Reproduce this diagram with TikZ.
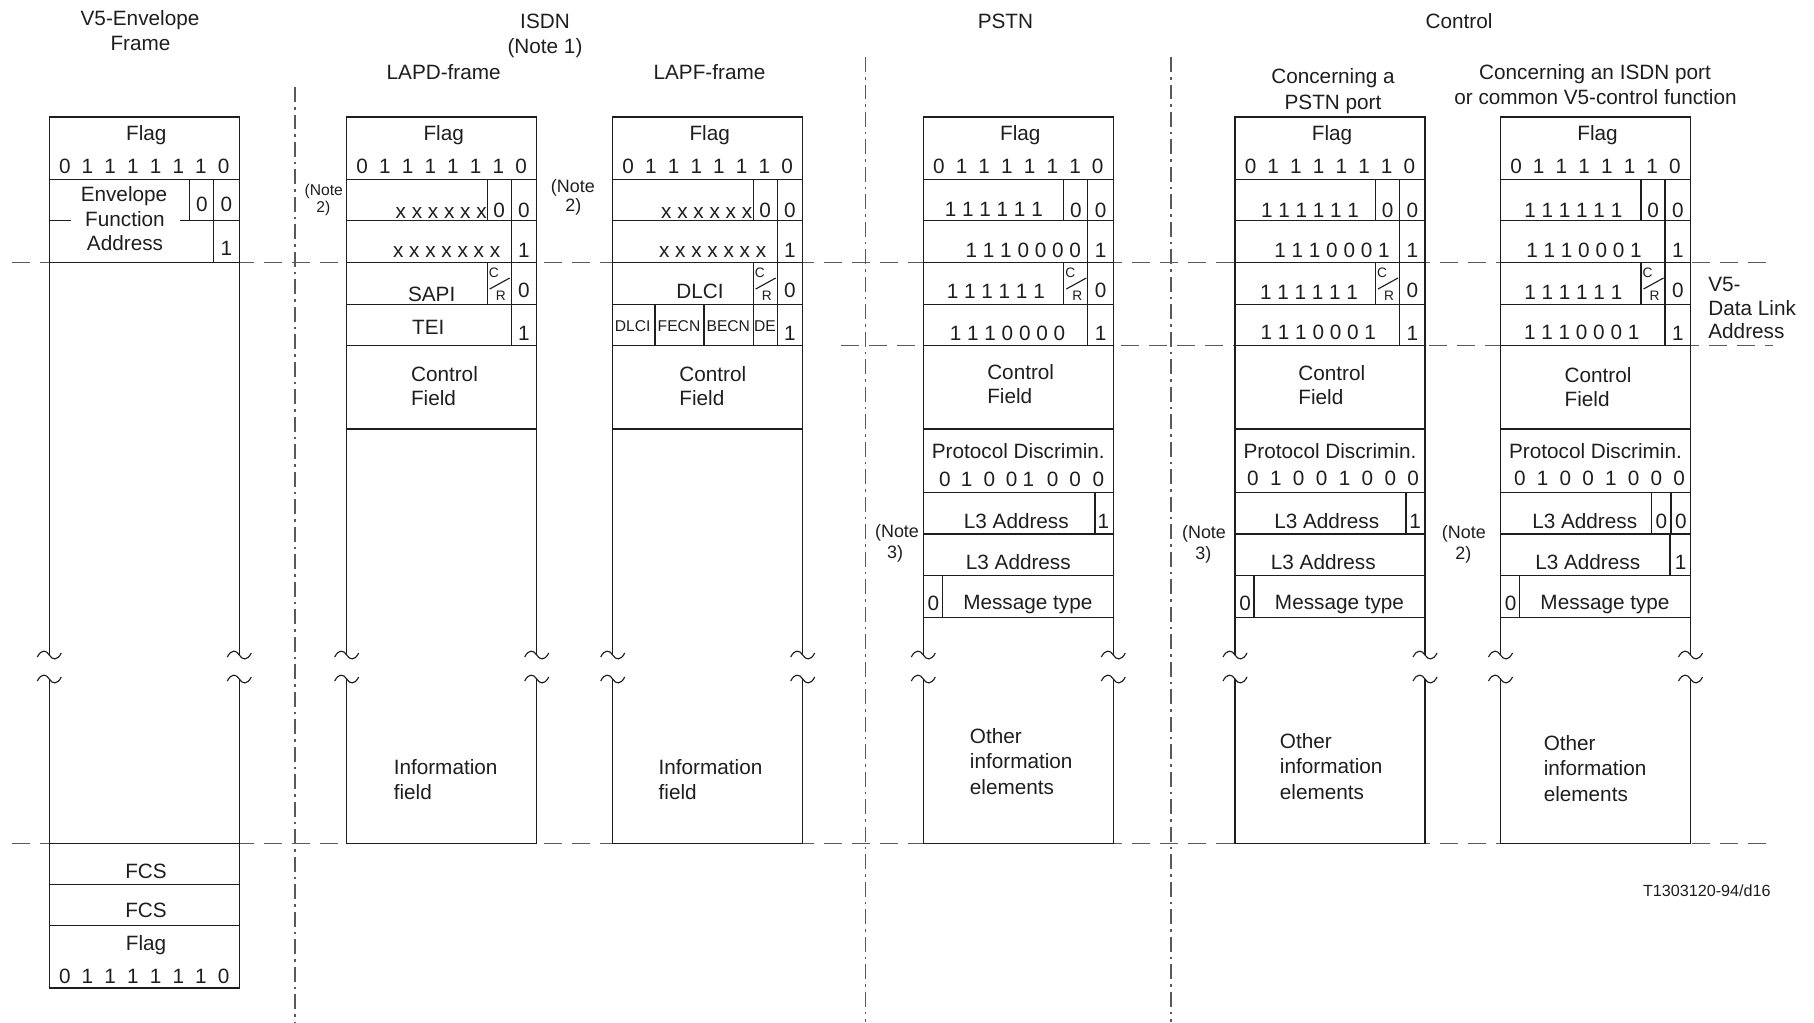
\documentclass[tikz,border=0pt]{standalone}
\usepackage{fontspec}
\setmainfont{Liberation Sans}
\definecolor{linegray}{RGB}{30,30,30}
\definecolor{dashgray}{RGB}{90,90,90}

\begin{document}
\begin{tikzpicture}[x=0.02cm, y=-0.02cm,
  box/.style={line width=0.65pt, draw=linegray},
  sepline/.style={line width=0.65pt, draw=dashgray, dash pattern=on 0.36cm off 0.2cm},
  colline/.style={line width=0.65pt, draw=dashgray, dash pattern=on 0.3cm off 0.1cm on 0.05cm off 0.1cm},
  lbl/.style={inner sep=0pt, anchor=base, text=linegray, font=\fontsize{11.8}{14}\selectfont},
  lbll/.style={lbl, anchor=base west},
  lblr/.style={lbl, anchor=base east},
  notelbl/.style={lbl, font=\fontsize{10.2}{12}\selectfont},
  tinylbl/.style={lbl, font=\fontsize{8.9}{10}\selectfont},
  crlbl/.style={lbl, anchor=center, font=\fontsize{7.8}{9}\selectfont},
  brk/.pic={\draw[box] (-12,2) .. controls (-8,-6) and (-3,-5) .. (0,0) .. controls (3,5) and (8,6) .. (12,-2);}]
  \useasboundingbox (0,0) rectangle (1814,1022);

  \draw[sepline] (12,262.5) -- (1773,262.5);
  \draw[sepline] (841,345.7) -- (1773,345.7);
  \draw[sepline] (12,843.5) -- (1773,843.5);
  \draw[colline] (295,87) -- (295,1022);
  \draw[colline] (865.5,57) -- (865.5,1022);
  \draw[colline] (1171,57) -- (1171,1022);

  \node[lbl] (t-v5a) at (140,25.5) {V5-Envelope};
  \node[lbl] (t-v5b) at (140.5,50) {Frame};
  \node[lbl] (t-isdn) at (545,28.3) {ISDN};
  \node[lbl] (t-note1) at (545,53.5) {(Note 1)};
  \node[lbl] (t-lapd) at (443.7,79) {LAPD-frame};
  \node[lbl] (t-lapf) at (709.5,79) {LAPF-frame};
  \node[lbl] (t-pstn) at (1005.4,28.3) {PSTN};
  \node[lbl] (t-ctrl) at (1459,28.3) {Control};
  \node[lbl] (t-cpa) at (1333,83) {Concerning a};
  \node[lbl] (t-cpb) at (1333,109) {PSTN port};
  \node[lbl] (t-cia) at (1595,79) {Concerning an ISDN port};
  \node[lbl] (t-cib) at (1595.5,104) {or common V5-control function};

  \foreach \f/\L in {v5/49.3, lapd/346.7, lapf/612.7, pstn/923.3, cpstn/1235, cisdn/1500.5}{
    \pgfmathsetmacro{\R}{\L+190}
    \pgfmathsetmacro{\C}{\L+95}
    \draw[box] (\L,655) -- (\L,117) -- (\R,117) -- (\R,655);
    \draw[box] (\L,679) -- (\L,843.5) -- (\R,843.5) -- (\R,679);
    \draw[box] (\L,179.3) -- (\R,179.3);
    \pic at (\L,655) {brk}; \pic at (\L,679) {brk};
    \pic at (\R,655) {brk}; \pic at (\R,679) {brk};
    \node[lbl] (flag-\f) at (\C+2,140) {Flag};
    \foreach \d [count=\k] in {0,1,1,1,1,1,1,0}
      \node[lbl] (fd-\f-\k) at (\C+\k*22.7-102.2,173) {\d};
  }

  \foreach \f/\L/\cx/\cy in {lapd/346.7/410.7/381, lapf/612.7/679/381, pstn/923.3/986.9/379, cpstn/1235/1298/380, cisdn/1500.5/1564.3/382}{
    \pgfmathsetmacro{\R}{\L+190}
    \foreach \y in {220.7,262.5,304.3,345.7,429} \draw[box] (\L,\y) -- (\R,\y);
    \draw[box] (\R-25.5,179.3) -- (\R-25.5,345.7);
    \draw[box] (\R-49.5,179.3) -- (\R-49.5,220.7) (\R-49.5,262.5) -- (\R-49.5,304.3);
    \draw[box] (\R-47,289) -- (\R-27,278);
    \node[crlbl] (c-\f) at (\R-43,272.5) {C};
    \node[crlbl] (r-\f) at (\R-36,296) {R};
    \node[lbl] (ea1a-\f) at (\R-37.5,217) {0};
    \node[lbl] (ea1b-\f) at (\R-12.75,217) {0};
    \node[lbl] (ea2-\f) at (\R-12.75,257) {1};
    \node[lbl] (ea3-\f) at (\R-12.75,297) {0};
    \node[lbl] (ea4-\f) at (\R-12.75,340) {1};
    \node[lbll] (ctl-\f) at (\cx,\cy) {Control};
    \node[lbll] (fld-\f) at (\cx,\cy+24.5) {Field};
  }

  \foreach \f/\L in {pstn/923.3, cpstn/1235, cisdn/1500.5}{
    \pgfmathsetmacro{\R}{\L+190}
    \foreach \y in {492.7,534,575.7,617.3} \draw[box] (\L,\y) -- (\R,\y);
    \draw[box] (\L+19,575.7) -- (\L+19,617.3);
    \node[lbl] (pd-\f) at (\L+95,458.5) {Protocol Discrimin.};
    \node[lbl] (mt0-\f) at (\L+10,610) {0};
    \node[lbl] (mt-\f) at (\L+104.5,609.5) {Message type};
  }

  % V5 envelope frame
  \draw[box] (49.3,262.5) -- (239.3,262.5);
  \draw[box] (213.8,179.3) -- (213.8,262.5);
  \draw[box] (189.8,179.3) -- (189.8,220.7) -- (239.3,220.7);
  \draw[box] (49.3,220.7) -- (71,220.7) (180,220.7) -- (189.8,220.7);
  \node[lbl] (v5-b1) at (201.8,211) {0};
  \node[lbl] (v5-b2) at (226.5,211) {0};
  \node[lbl] (v5-b3) at (226.5,255) {1};
  \node[lbl] (v5-efa1) at (124,201) {Envelope};
  \node[lbl] (v5-efa2) at (125,226) {Function};
  \node[lbl] (v5-efa3) at (125,250) {Address};
  \draw[box] (49.3,843.5) -- (49.3,988) -- (239.3,988) -- (239.3,843.5);
  \draw[box] (49.3,884.5) -- (239.3,884.5) (49.3,925.5) -- (239.3,925.5);
  \node[lbl] (v5-fcs1) at (146,878) {FCS};
  \node[lbl] (v5-fcs2) at (146,917) {FCS};
  \node[lbl] (v5-flag) at (146,950) {Flag};
  \foreach \d [count=\k] in {0,1,1,1,1,1,1,0}
    \node[lbl] (v5-fd-\k) at (144.3+\k*22.7-102.2,983) {\d};

  % ISDN frames
  \node[lblr] (lapd-x1) at (487,218) {x x x x x x};
  \node[lblr] (lapd-x2) at (500.5,257) {x x x x x x x};
  \node[lbl] (lapd-sapi) at (431.7,301) {SAPI};
  \node[lbl] (lapd-tei) at (428.3,334.3) {TEI};
  \node[lbll] (lapd-inf1) at (393.4,774) {Information};
  \node[lbll] (lapd-inf2) at (393.4,799) {field};
  \node[tinylbl] (lapd-n1) at (323.8,195) {(Note};
  \node[tinylbl] (lapd-n2) at (323.3,212) {2)};

  \node[lblr] (lapf-x1) at (752.5,218) {x x x x x x};
  \node[lblr] (lapf-x2) at (766.5,257) {x x x x x x x};
  \node[lbl] (lapf-dlci) at (700,298) {DLCI};
  \draw[box] (655,304.3) -- (655,345.7) (704,304.3) -- (704,345.7) (753.2,304.3) -- (753.2,345.7);
  \node[tinylbl] (lapf-d) at (632.7,331.5) {DLCI};
  \node[tinylbl] (lapf-f) at (679,331.5) {FECN};
  \node[tinylbl] (lapf-b) at (728.3,331.5) {BECN};
  \node[tinylbl] (lapf-de) at (765,331.5) {DE};
  \node[lbll] (lapf-inf1) at (658.3,774) {Information};
  \node[lbll] (lapf-inf2) at (658.3,799) {field};
  \node[notelbl] (lapf-n1) at (572.8,192) {(Note};
  \node[notelbl] (lapf-n2) at (573.3,211) {2)};

  % PSTN frame
  \node[lbl] (pstn-r1) at (993.8,216) {1 1 1 1 1 1};
  \node[lbl] (pstn-r2) at (1023.3,257) {1 1 1 0 0 0 0};
  \node[lbl] (pstn-r3) at (995.8,298) {1 1 1 1 1 1};
  \node[lbl] (pstn-r4) at (1007.5,340) {1 1 1 0 0 0 0};
  \foreach \d/\x [count=\k] in {0/945,1/966.7,0/989.3,0/1011.7,1/1028.3,0/1052.7,0/1075,0/1098.3}
    \node[lbl] (pstn-pd-\k) at (\x,486) {\d};
  \draw[box] (1095,492.7) -- (1095,534);
  \node[lbl] (pstn-l3a) at (1016.3,528) {L3 Address};
  \node[lbl] (pstn-l3e) at (1103.3,528) {1};
  \node[lbl] (pstn-l3b) at (1018.3,569) {L3 Address};
  \node[lbll] (pstn-o1) at (969.6,743.5) {Other};
  \node[lbll] (pstn-o2) at (969.6,768.8) {information};
  \node[lbll] (pstn-o3) at (969.6,794.3) {elements};
  \node[notelbl] (pstn-n1) at (897,537) {(Note};
  \node[notelbl] (pstn-n2) at (895,558) {3)};

  % control frames
  \node[lbl] (cpstn-r1) at (1310,217) {1 1 1 1 1 1};
  \node[lbl] (cpstn-r2) at (1332,257) {1 1 1 0 0 0 1};
  \node[lbl] (cpstn-r3) at (1309,299) {1 1 1 1 1 1};
  \node[lbl] (cpstn-r4) at (1318.3,339.5) {1 1 1 0 0 0 1};
  \foreach \d [count=\k] in {0,1,0,0,1,0,0,0}
    \node[lbl] (cpstn-pd-\k) at (1230+\k*22.9,485) {\d};
  \draw[box] (1406,492.7) -- (1406,534);
  \node[lbl] (cpstn-l3a) at (1326.7,528) {L3 Address};
  \node[lbl] (cpstn-l3e) at (1415,528) {1};
  \node[lbl] (cpstn-l3b) at (1323.3,569) {L3 Address};
  \node[lbll] (cpstn-o1) at (1279.6,748) {Other};
  \node[lbll] (cpstn-o2) at (1279.6,773.5) {information};
  \node[lbll] (cpstn-o3) at (1279.6,799) {elements};
  \node[notelbl] (cpstn-n1) at (1204,538) {(Note};
  \node[notelbl] (cpstn-n2) at (1203.3,559) {3)};

  \node[lbl] (cisdn-r1) at (1573.3,217) {1 1 1 1 1 1};
  \node[lbl] (cisdn-r2) at (1584,257) {1 1 1 0 0 0 1};
  \node[lbl] (cisdn-r3) at (1573.3,299) {1 1 1 1 1 1};
  \node[lbl] (cisdn-r4) at (1581.7,339.5) {1 1 1 0 0 0 1};
  \foreach \d [count=\k] in {0,1,0,0,1,0,0,0}
    \node[lbl] (cisdn-pd-\k) at (1497+\k*22.75,485) {\d};
  \draw[box] (1651.7,492.7) -- (1651.7,534) (1671,492.7) -- (1671,534) (1670,534) -- (1670,575.7);
  \node[lbl] (cisdn-l3a) at (1584.7,528) {L3 Address};
  \node[lbl] (cisdn-l3e1) at (1661.3,528) {0};
  \node[lbl] (cisdn-l3e2) at (1680.8,528) {0};
  \node[lbl] (cisdn-l3b) at (1587.7,569) {L3 Address};
  \node[lbl] (cisdn-l3e3) at (1680.5,569) {1};
  \node[lbll] (cisdn-o1) at (1543.4,750) {Other};
  \node[lbll] (cisdn-o2) at (1543.4,775.7) {information};
  \node[lbll] (cisdn-o3) at (1543.4,801) {elements};
  \node[notelbl] (cisdn-n1) at (1463.8,538) {(Note};
  \node[notelbl] (cisdn-n2) at (1463.3,559) {2)};
  \node[lbll] (dla1) at (1708,291) {V5-};
  \node[lbll] (dla2) at (1708,315) {Data Link};
  \node[lbll] (dla3) at (1708,338) {Address};

  \node[lblr, font=\fontsize{9.2}{11}\selectfont] (figid) at (1771,896.5) {T1303120-94/d16};
\end{tikzpicture}
\end{document}
